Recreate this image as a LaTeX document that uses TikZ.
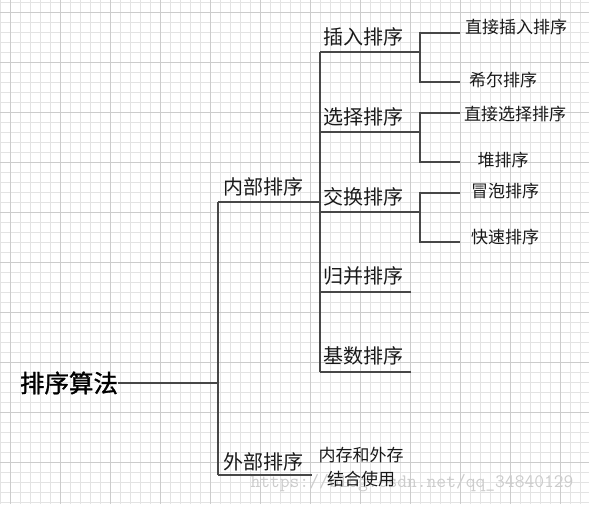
\documentclass[tikz,border=0pt]{standalone}
\usepackage{fontspec}
\setmainfont{Liberation Serif}
\newfontfamily\cjk{Noto Sans CJK SC}
\newfontfamily\cjkb[FakeBold=1.3]{Noto Sans CJK SC}
\setmonofont{Latin Modern Mono}
\begin{document}
\begin{tikzpicture}[x=1pt,y=-1pt,
  lbl/.style={inner sep=0pt,font=\cjk\fontsize{20}{22}\selectfont,text=black!90},
  leaf/.style={inner sep=0pt,font=\cjk\fontsize{17}{19}\selectfont,text=black!90},
  rootlbl/.style={inner sep=0pt,font=\cjkb\fontsize{24.5}{26}\selectfont,text=black},
  conn/.style={draw=black!72,line width=1.9pt},
  minorgrid/.style={draw=black!11,line width=0.9pt},
  majorgrid/.style={draw=black!20,line width=0.9pt}]
\useasboundingbox (0,0) rectangle (589,504);
\fill[white] (0,0) rectangle (589,504);
% grid
\foreach \x in {0,10,...,580} \draw[minorgrid] (\x,0) -- (\x,504);
\foreach \y in {2,12,...,502} \draw[minorgrid] (0,\y) -- (589,\y);
\foreach \x in {10,60,...,560} \draw[majorgrid] (\x,0) -- (\x,504);
\foreach \y in {12,62,...,462} \draw[majorgrid] (0,\y) -- (589,\y);
% watermark
\node[inner sep=0pt,font=\ttfamily\fontsize{19}{20}\selectfont,text=black!20] (wm) at (412,483) {https://blog.csdn.net/qq\_34840129};
% labels
\node[rootlbl] (root) at (69,383) {排序算法};
\node[lbl] (nb) at (263,187) {内部排序};
\node[lbl] (wb) at (263,462) {外部排序};
\node[lbl] (cr) at (363,37) {插入排序};
\node[lbl] (xz) at (363,117) {选择排序};
\node[lbl] (jh) at (363,197) {交换排序};
\node[lbl] (gb) at (363,276) {归并排序};
\node[lbl] (js) at (363,356) {基数排序};
\node[leaf] (zjcr) at (516,27) {直接插入排序};
\node[leaf] (xe) at (503,80) {希尔排序};
\node[leaf] (zjxz) at (515,114) {直接选择排序};
\node[leaf] (dui) at (503,160) {堆排序};
\node[leaf] (mp) at (505,191) {冒泡排序};
\node[leaf] (ks) at (505,237) {快速排序};
\node[leaf] (nc) at (361,455) {内存和外存};
\node[leaf] (jhsy) at (361,479) {结合使用};
% junction coordinates
\coordinate (t0) at (218,383);
\coordinate (t0a) at (218,202);
\coordinate (t0b) at (218,475);
\coordinate (nbEnd) at (320,202);
\coordinate (wbEnd) at (312,475);
\coordinate (t1a) at (320,52);
\coordinate (t1b) at (320,372);
\coordinate (crEnd) at (420,52);
\coordinate (xzEnd) at (420,132);
\coordinate (jhEnd) at (420,212);
\coordinate (gbA) at (320,292);
\coordinate (gbEnd) at (411,292);
\coordinate (jsEnd) at (411,372);
\coordinate (zjcrL) at (460,33);
\coordinate (xeL) at (460,82);
\coordinate (zjxzL) at (460,113);
\coordinate (duiL) at (460,162);
\coordinate (mpL) at (460,193);
\coordinate (ksL) at (460,242);
% connectors
\draw[conn] (root.east) -- (t0);
\draw[conn] (t0a) -- (t0b);
\draw[conn] (t0a) -- (nbEnd);
\draw[conn] (t0b) -- (wbEnd);
\draw[conn] (t1a) -- (t1b);
\draw[conn] (t1a) -- (crEnd);
\draw[conn] (t1a |- xzEnd) -- (xzEnd);
\draw[conn] (t1a |- jhEnd) -- (jhEnd);
\draw[conn] (gbA) -- (gbEnd);
\draw[conn] (t1b) -- (jsEnd);
\draw[conn] (zjcrL) -| (crEnd) |- (xeL);
\draw[conn] (zjxzL) -| (xzEnd) |- (duiL);
\draw[conn] (mpL) -| (jhEnd) |- (ksL);
\end{tikzpicture}
\end{document}
